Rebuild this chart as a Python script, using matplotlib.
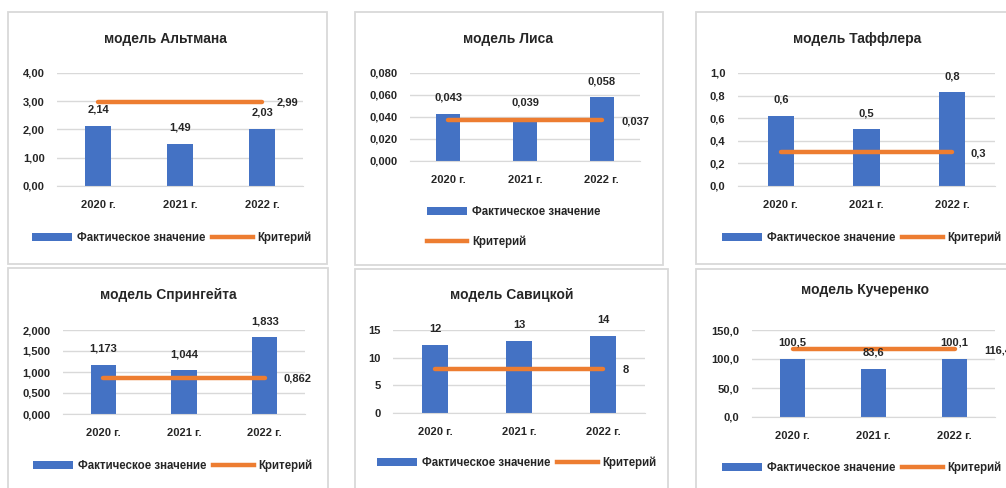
import matplotlib
matplotlib.use('Agg')
from matplotlib import pyplot as plt
from matplotlib.patches import Rectangle, Patch
from matplotlib.lines import Line2D
from matplotlib.ticker import FuncFormatter

plt.rcParams['font.family'] = ['Liberation Sans', 'DejaVu Sans']
plt.rcParams['font.weight'] = 'bold'

W, H = 1006, 488
BLUE = '#4472C4'
ORANGE = '#ED7D31'
GRID = '#D9D9D9'
TEXT = '#262626'

# data
years = ['2020 г.', '2021 г.', '2022 г.']
titles = ['модель Альтмана', 'модель Лиса', 'модель Таффлера',
          'модель Спрингейта', 'модель Савицкой', 'модель Кучеренко']

altman_fact = [2.14, 1.49, 2.03]
altman_crit = 2.99
lis_fact = [0.043, 0.039, 0.058]
lis_crit = 0.037
taffler_fact = [0.62, 0.50, 0.83]
taffler_crit = 0.30
springate_fact = [1.173, 1.044, 1.833]
springate_crit = 0.862
savitskaya_fact = [12.3, 13.0, 13.9]
savitskaya_crit = 8
kucherenko_fact = [100.5, 83.6, 100.1]
kucherenko_crit = 116.4

facts = [altman_fact, lis_fact, taffler_fact, springate_fact, savitskaya_fact, kucherenko_fact]
crits = [altman_crit, lis_crit, taffler_crit, springate_crit, savitskaya_crit, kucherenko_crit]
y_max = [4, 0.08, 1.0, 2.0, 15, 150]
y_step = [1, 0.02, 0.2, 0.5, 5, 50]
decimals = [2, 3, 1, 3, 0, 1]

# layout in pixels: frame, plot x-range, plot y-range, title centre, legend anchor, crit label dx
layout = [
    dict(frame=(8, 12, 327, 264), px=(57, 303), py=(73, 186), title=(165, 39), leg=(32, 238), vert=False, dx=15),
    dict(frame=(355, 12, 663, 265), px=(410, 640), py=(73, 161), title=(508, 39), leg=(427, 227), vert=True, dx=20),
    dict(frame=(696, 12, 1015, 264), px=(738, 995), py=(73, 186), title=(857, 39), leg=(722, 238), vert=False, dx=18),
    dict(frame=(8, 268, 328, 495), px=(63, 305), py=(330, 414), title=(168, 295), leg=(33, 466), vert=False, dx=19),
    dict(frame=(355, 269, 668, 495), px=(393, 645), py=(330, 413), title=(512, 295), leg=(377, 463), vert=False, dx=20),
    dict(frame=(696, 269, 1015, 495), px=(752, 995), py=(330, 417), title=(865, 290), leg=(722, 468), vert=False, dx=30),
]


def fx(x):
    return x / W


def fy(y):
    return 1 - y / H


def fmt_num(v, d):
    return f'{v:.{d}f}'.replace('.', ',')


fig = plt.figure(figsize=(W / 100, H / 100), dpi=100)
fig.patch.set_facecolor('white')

for i in range(6):
    lay = layout[i]
    x0, y0, x1, y1 = lay['frame']
    fig.add_artist(Rectangle((fx(x0), fy(y1)), fx(x1 - x0), (y1 - y0) / H, transform=fig.transFigure,
                             facecolor='white', edgecolor=GRID, linewidth=1.3, zorder=0))

    ax = fig.add_axes([fx(lay['px'][0]), fy(lay['py'][1]), fx(lay['px'][1] - lay['px'][0]),
                       (lay['py'][1] - lay['py'][0]) / H])
    ax.set_facecolor('none')
    xs = range(len(years))
    d = decimals[i]
    ax.bar(xs, facts[i], width=0.31, color=BLUE, zorder=2)
    ax.plot(xs, [crits[i]] * len(years), color=ORANGE, linewidth=3.2, solid_capstyle='round', zorder=3)

    for x, v in zip(xs, facts[i]):
        ax.annotate(fmt_num(v, d), (x, v), xytext=(0, 16), textcoords='offset pixels',
                    ha='center', va='center', fontsize=8, color=TEXT, zorder=4, annotation_clip=False)
    ax.annotate(fmt_num(crits[i], d), (2, crits[i]), xytext=(lay['dx'], -1), textcoords='offset pixels',
                ha='left', va='center', fontsize=8, color=TEXT, annotation_clip=False)

    ax.set_xlim(-0.5, 2.5)
    ax.set_ylim(0, y_max[i])
    n = int(round(y_max[i] / y_step[i]))
    ax.set_yticks([k * y_step[i] for k in range(n + 1)])
    ax.yaxis.set_major_formatter(FuncFormatter(lambda v, p, d=d: fmt_num(v, d)))
    ax.set_xticks(list(xs))
    ax.set_xticklabels(years)
    ax.tick_params(length=0, labelsize=8, colors=TEXT)
    ax.tick_params(axis='y', pad=9)
    ax.tick_params(axis='x', pad=10)
    ax.grid(axis='y', color=GRID, linewidth=1, zorder=0)
    ax.set_axisbelow(True)
    for s in ['top', 'right', 'left']:
        ax.spines[s].set_visible(False)
    ax.spines['bottom'].set_color(GRID)

    fig.text(fx(lay['title'][0]), fy(lay['title'][1]), titles[i], ha='center', va='center',
             fontsize=10, color=TEXT)

    handles = [Patch(facecolor=BLUE), Line2D([], [], color=ORANGE, linewidth=3.2)]
    labels = ['Фактическое значение', 'Критерий']
    lx, ly = lay['leg']
    ax.legend(handles, labels, loc='center left', bbox_to_anchor=(fx(lx), fy(ly)),
              bbox_transform=fig.transFigure, ncol=1 if lay['vert'] else 2, frameon=False,
              fontsize=8.3, handlelength=3.5, handleheight=0.7, handletextpad=0.4,
              columnspacing=0.6, labelspacing=1.55, borderpad=0, borderaxespad=0,
              labelcolor=TEXT)

fig.savefig('out.png', dpi=100, facecolor='white')
